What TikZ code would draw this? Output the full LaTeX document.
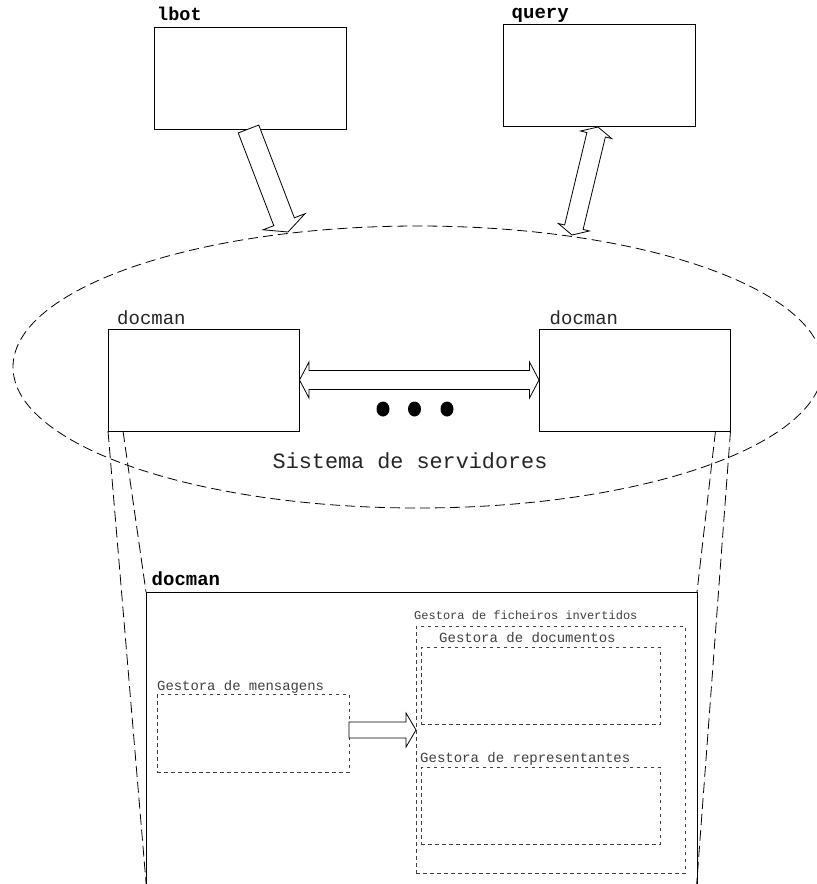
\documentclass[tikz,border=0pt]{standalone}
\usepackage{fontspec}
\setmonofont{Liberation Mono}
\usetikzlibrary{calc,shapes.geometric}
\tikzset{
  box/.style={draw, line width=0.9pt, inner sep=0pt, outer sep=0pt, rectangle},
  sub/.style={draw=black!75, line width=0.9pt, dash pattern=on 3.5pt off 3.5pt, inner sep=0pt, outer sep=0pt, rectangle},
  proj/.style={line width=0.8pt, dash pattern=on 11pt off 5pt},
  fat/.style={draw, line width=0.8pt, fill=white, line join=miter},
  lbl/.style={inner sep=0pt, anchor=base west, font=\ttfamily},
}
\newcommand{\fatone}[5]{%
  \coordinate (fc) at ($(#2)!#5!(#1)$);
  \draw[fat] ($(#1)!#3!90:(#2)$) -- ($(fc)!#3!90:(#2)$) -- ($(fc)!#4!90:(#2)$) -- (#2)
    -- ($(fc)!#4!-90:(#2)$) -- ($(fc)!#3!-90:(#2)$) -- ($(#1)!#3!-90:(#2)$) -- cycle;}
\newcommand{\fattwo}[5]{%
  \coordinate (fa) at ($(#1)!#5!(#2)$);
  \coordinate (fb) at ($(#2)!#5!(#1)$);
  \draw[fat] (#1) -- ($(fa)!#4!90:(#2)$) -- ($(fa)!#3!90:(#2)$) -- ($(fb)!#3!90:(#2)$) -- ($(fb)!#4!90:(#2)$) -- (#2)
    -- ($(fb)!#4!-90:(#2)$) -- ($(fb)!#3!-90:(#2)$) -- ($(fa)!#3!-90:(#2)$) -- ($(fa)!#4!-90:(#2)$) -- cycle;}
\begin{document}
\begin{tikzpicture}[x=1pt,y=-1pt]
\useasboundingbox (0,0) rectangle (817,884);
\clip (0,0) rectangle (817,884);
\fill[white] (0,0) rectangle (817,884);

% top boxes
\node[box, anchor=north west, minimum width=192pt, minimum height=102pt] (lbot) at (154,27) {};
\node[lbl, font=\fontsize{18.5}{20}\selectfont\ttfamily\bfseries] (lbotl) at (157,20) {lbot};
\node[box, anchor=north west, minimum width=192.5pt, minimum height=102.5pt] (query) at (503,24) {};
\node[lbl, font=\fontsize{19}{20}\selectfont\ttfamily\bfseries] (queryl) at (511.5,18) {query};

% system ellipse
\node[ellipse, draw, line width=0.8pt, dash pattern=on 10pt off 5pt, inner sep=0pt, minimum width=810pt, minimum height=282pt] (sys) at (418,367) {};
\node[lbl, text=black!85, font=\fontsize{21.8}{24}\selectfont\ttfamily] (sysl) at (272.5,468) {Sistema de servidores};

% arrows to system
\coordinate (e1) at (288,232);
\coordinate (e2) at (572,235);
\coordinate (lbotb) at (248.5,129);
\coordinate (queryb) at (598,127);
\fatone{lbotb}{e1}{11pt}{22.5pt}{11pt}
\fattwo{queryb}{e2}{9.5pt}{16pt}{8pt}

% docman servers
\node[box, anchor=north west, minimum width=191.5pt, minimum height=102pt] (dl) at (108,329) {};
\node[box, anchor=north west, minimum width=191.5pt, minimum height=102pt] (dr) at (539,329) {};
\node[lbl, text=black!85, font=\fontsize{19}{20}\selectfont\ttfamily] (dll) at (117,324) {docman};
\node[lbl, text=black!85, font=\fontsize{19}{20}\selectfont\ttfamily] (drl) at (549.5,324) {docman};
\fattwo{dl.east}{dr.west}{9.5pt}{18pt}{9.5pt}

% dots
\fill (383,409) ellipse [x radius=6.5, y radius=7.5];
\fill (414.5,409) ellipse [x radius=6.5, y radius=7.5];
\fill (447,409) ellipse [x radius=6.5, y radius=7.5];

% big docman box
\node[box, anchor=north west, minimum width=551pt, minimum height=320pt] (dm) at (146,592) {};
\node[lbl, font=\fontsize{19}{20}\selectfont\ttfamily\bfseries] (dml) at (151.5,585) {docman};

% projection lines
\coordinate (pl) at (147.5,900);
\coordinate (pr) at (695.5,900);
\draw[proj] (dl.south west) -- (pl);
\draw[proj] ($(dl.south west)+(15,0)$) -- (dm.north west);
\draw[proj] ($(dr.south east)+(-15,0)$) -- (dm.north east);
\draw[proj] (dr.south east) -- (pr);

% inner modules
\node[sub, anchor=north west, minimum width=192pt, minimum height=78pt] (gm) at (157,694) {};
\node[lbl, text=black!75, font=\fontsize{13.9}{15}\selectfont\ttfamily] (gml) at (157,690) {Gestora de mensagens};
\node[sub, anchor=north west, minimum width=269pt, minimum height=247pt] (gf) at (416,626) {};
\node[lbl, text=black!75, font=\fontsize{12}{13}\selectfont\ttfamily] (gfl) at (414,619) {Gestora de ficheiros invertidos};
\node[sub, anchor=north west, minimum width=239pt, minimum height=77pt] (gd) at (421,647) {};
\node[lbl, text=black!75, font=\fontsize{14}{15}\selectfont\ttfamily] (gdl) at (439,642) {Gestora de documentos};
\node[sub, anchor=north west, minimum width=239pt, minimum height=77pt] (gr) at (421,767) {};
\node[lbl, text=black!75, font=\fontsize{14}{15}\selectfont\ttfamily] (grl) at (420,762) {Gestora de representantes};

\coordinate (gma) at ($(gm.east)+(0,-3)$);
\coordinate (gfa) at (gma -| gf.west);
\fatone{gma}{gfa}{8pt}{17pt}{10pt}
\end{tikzpicture}
\end{document}
